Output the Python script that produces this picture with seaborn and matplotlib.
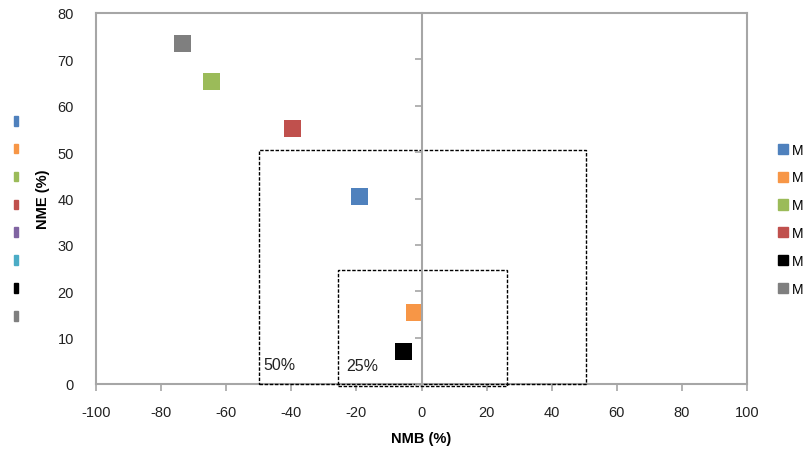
import numpy as np
import pandas as pd
import seaborn as sns
from matplotlib import pyplot as plt
from matplotlib.patches import Rectangle

# series
models = ["Model 1", "Model 2", "Model 3", "Model 4", "Model 7", "Model 8"]
nmb = [-18.9, -2.3, -64.4, -39.5, -5.4, -73.3]
nme = [40.5, 15.5, 65.3, 55.0, 7.1, 73.5]
colors = ["#4F81BD", "#F79646", "#9BBB59", "#C0504D", "#000000", "#7F7F7F"]
# only the first letter of each legend entry is visible in the chart
legend_text = ["M"] * len(models)

# second (unlabelled) key on the left has eight swatches
left_key_colors = ["#4F81BD", "#F79646", "#9BBB59", "#C0504D",
                   "#8064A2", "#4BACC6", "#000000", "#7F7F7F"]

# criteria boxes: (x0, x1, y0, y1, label)
boxes = [(-50, 50.5, 0, 50.5, "50%"), (-25.7, 26.3, -0.4, 24.6, "25%")]
box_label_pos = [(-48.7, 4.3), (-23.2, 3.9)]

x_ticks = list(range(-100, 101, 20))
y_ticks = list(range(0, 81, 10))

plt.rcParams["font.family"] = ["Liberation Sans", "DejaVu Sans"]
plt.rcParams["axes.unicode_minus"] = False
axis_grey = "#A6A6A6"

fig = plt.figure(figsize=(8.05, 4.52), dpi=100)
ax = fig.add_axes([96 / 805, 1 - 385 / 452, 651 / 805, 371 / 452])

df = pd.DataFrame({"model": models, "NMB": nmb, "NME": nme})
sns.scatterplot(data=df, x="NMB", y="NME", hue="model", palette=colors,
                marker="s", s=150, edgecolor="none", legend=False, ax=ax,
                zorder=5, clip_on=False)

for (x0, x1, y0, y1, lab), (tx, ty) in zip(boxes, box_label_pos):
    ax.add_patch(Rectangle((x0, y0), x1 - x0, y1 - y0, fill=False,
                           edgecolor="black", lw=1.0,
                           linestyle=(0, (2.5, 1.2)), zorder=4, clip_on=False))
    ax.text(tx, ty, lab, fontsize=11.5, va="center", ha="left", color="#222222")

ax.set_xlim(-100, 100)
ax.set_ylim(0, 80)
ax.set_xticks(x_ticks)
ax.set_yticks(y_ticks)
ax.tick_params(axis="y", length=0, pad=16, labelsize=10.5, colors="#222222")
ax.tick_params(axis="x", length=5, width=1.2, color=axis_grey, pad=10,
               labelsize=10.5, labelcolor="#222222")
for s in ax.spines.values():
    s.set_color(axis_grey)
    s.set_linewidth(1.5)
ax.set_xlabel("NMB (%)", fontweight="bold", fontsize=10.5, labelpad=9)
ax.set_ylabel("NME (%)", fontweight="bold", fontsize=10.5, labelpad=5)

# vertical axis crossing at x = 0 with outward ticks
ax2 = ax.twinx()
ax2.set_ylim(0, 80)
ax2.set_yticks(y_ticks)
ax2.spines["left"].set_position(("data", 0))
ax2.spines["left"].set_visible(True)
ax2.spines["left"].set_color(axis_grey)
ax2.spines["left"].set_linewidth(1.5)
for k in ["right", "top", "bottom"]:
    ax2.spines[k].set_visible(False)
ax2.yaxis.set_ticks_position("left")
ax2.tick_params(axis="y", length=5, width=1.2, color=axis_grey,
                labelleft=False, labelright=False)

# right-hand legend
handles = [Rectangle((0, 0), 1, 1, color=c) for c in colors]
fig.legend(handles, legend_text, loc="upper left",
           bbox_to_anchor=(772 / 805, 1 - 138 / 452),
           frameon=False, fontsize=10, handlelength=0.75, handleheight=0.75,
           handletextpad=0.3, labelspacing=1.0, borderaxespad=0)

# left unlabelled key
lhandles = [Rectangle((0, 0), 1, 1, color=c) for c in left_key_colors]
fig.legend(lhandles, [""] * len(lhandles), loc="upper left",
           bbox_to_anchor=(8 / 805, 1 - 110 / 452), frameon=False, fontsize=10,
           handlelength=0.35, handleheight=0.7, handletextpad=0,
           labelspacing=1.0, borderaxespad=0)

fig.savefig("out.png", dpi=100)
